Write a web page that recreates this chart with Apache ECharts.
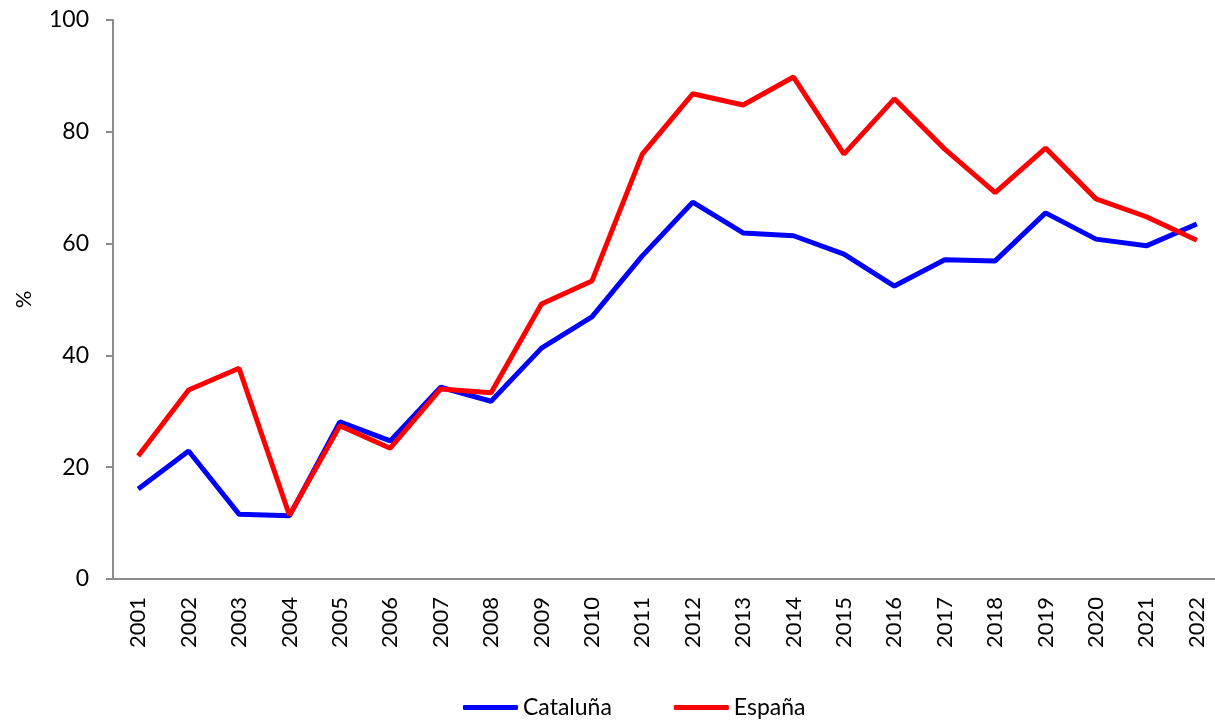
<!DOCTYPE html>
<html><head><meta charset="utf-8">
<script src="https://cdn.jsdelivr.net/npm/echarts@6/dist/echarts.min.js"></script>
<style>html,body{margin:0;padding:0;background:#fff;overflow:hidden}#c{width:1230px;height:721px}</style>
</head><body><div id="c"></div>
<script>
const years = ['2001','2002','2003','2004','2005','2006','2007','2008','2009','2010','2011','2012','2013','2014','2015','2016','2017','2018','2019','2020','2021','2022'];
const cataluna = [16.1,22.9,11.6,11.3,28.1,24.7,34.3,31.8,41.3,46.9,57.8,67.4,61.9,61.4,58.1,52.4,57.1,56.9,65.5,60.8,59.6,63.5];
const espana = [22.0,33.8,37.7,11.4,27.4,23.4,34.0,33.3,49.2,53.3,76.0,86.8,84.8,89.8,76.0,85.9,76.9,69.1,77.1,68.0,64.8,60.6];
const yTicks = [0,20,40,60,80,100];
const font = 'Lato, "Open Sans", sans-serif';
const chart = echarts.init(document.getElementById('c'));
chart.setOption({
  animation:false,
  backgroundColor:'#fff',
  textStyle:{fontFamily:font},
  grid:{left:113,right:8,top:20,bottom:142,containLabel:false},
  legend:{top:691,left:458,itemWidth:55,itemHeight:5,itemGap:62,
    textStyle:{fontSize:23,color:'#000',fontFamily:font},
    data:[{name:'Cataluña',icon:'roundRect'},{name:'España',icon:'roundRect'}]},
  xAxis:{type:'category',data:years,boundaryGap:true,
    axisLine:{lineStyle:{color:'#8c8c8c',width:2}},
    axisTick:{alignWithLabel:true,length:7,lineStyle:{color:'#8c8c8c',width:2}},
    axisLabel:{rotate:90,fontSize:22,color:'#000',margin:18,interval:0}},
  yAxis:{type:'value',min:0,max:100,interval:20,
    name:'%',nameLocation:'middle',nameGap:78,nameTextStyle:{fontSize:22,color:'#000'},
    splitLine:{show:false},
    axisLine:{show:true,lineStyle:{color:'#8c8c8c',width:2}},
    axisTick:{show:true,length:7,lineStyle:{color:'#8c8c8c',width:2}},
    axisLabel:{fontSize:23,color:'#000',margin:24,
      formatter:v=>yTicks.includes(v)?String(v):''}},
  series:[
    {name:'Cataluña',type:'line',data:cataluna,symbol:'none',lineStyle:{color:'#0000ff',width:5},itemStyle:{color:'#0000ff'}},
    {name:'España',type:'line',data:espana,symbol:'none',lineStyle:{color:'#ff0000',width:5},itemStyle:{color:'#ff0000'}}
  ]
});
</script></body></html>
